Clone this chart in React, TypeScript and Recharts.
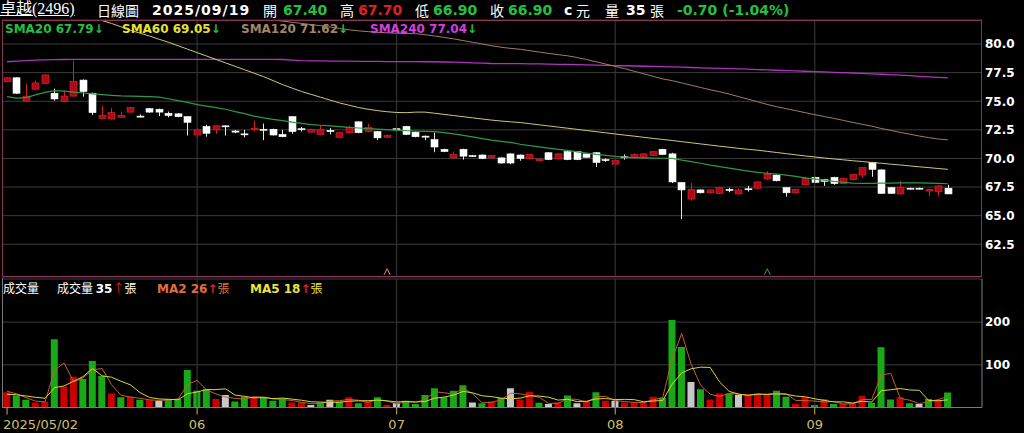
import React from "react";
import {
  ComposedChart,
  Bar,
  Line,
  XAxis,
  YAxis,
  CartesianGrid,
  ReferenceLine,
  ReferenceDot,
  Cell,
} from "recharts";

// 2025/05/02 .. 2025/09/19, one entry per trading day
const OPEN = [
  76.7, 77.05, 75.0, 76.05, 76.55, 75.7, 75.0, 75.45, 76.85, 75.7,
  73.5, 73.45, 73.6, 74.05, 73.7, 74.35, 74.3, 73.95, 73.9, 73.65,
  72.05, 72.8, 72.5, 72.85, 72.4, 72.15, 72.55, 72.55, 72.55, 72.1,
  73.65, 72.6, 72.3, 72.1, 72.45, 71.85, 72.25, 73.2, 72.35, 72.35,
  71.85, 72.6, 72.8, 72.3, 71.95, 71.65, 70.8, 70.05, 70.8, 70.25,
  70.3, 70.05, 70.05, 70.4, 70.3, 70.0, 69.8, 70.5, 69.95, 70.6,
  70.6, 70.4, 70.5, 69.9, 69.5, 70.15, 70.1, 70.1, 70.25, 70.8,
  70.4, 67.9, 66.45, 67.25, 67.0, 66.95, 67.3, 66.9, 67.35, 67.4,
  68.2, 68.55, 67.45, 67.0, 67.7, 68.35, 68.15, 68.35, 67.8, 68.15,
  68.55, 69.65, 69.0, 67.45, 66.9, 67.4, 67.4, 67.15, 67.1, 67.4,
];
const HIGH = [
  77.1, 77.1, 76.55, 76.8, 77.35, 76.1, 75.9, 78.55, 76.9, 75.75,
  74.6, 74.4, 74.1, 74.5, 73.85, 74.4, 74.35, 74.1, 73.95, 73.7,
  72.7, 72.95, 72.9, 72.9, 72.5, 72.5, 73.3, 73.05, 72.6, 72.5,
  73.7, 72.75, 72.6, 72.9, 72.65, 72.3, 72.85, 73.25, 73.05, 72.4,
  72.1, 72.65, 72.85, 72.35, 72.0, 72.25, 70.85, 70.6, 70.85, 70.3,
  70.35, 70.3, 70.1, 70.45, 70.35, 70.4, 70.0, 70.55, 70.45, 70.65,
  70.65, 70.45, 70.55, 70.0, 69.9, 70.35, 70.45, 70.45, 70.65, 70.85,
  70.5, 67.95, 67.85, 67.3, 67.3, 67.5, 67.45, 67.4, 67.6, 68.0,
  68.9, 68.6, 67.5, 67.35, 68.4, 68.4, 68.2, 68.4, 68.3, 68.65,
  69.25, 69.7, 69.05, 67.5, 68.05, 67.45, 67.45, 67.35, 67.65, 67.7,
];
const LOW = [
  76.65, 75.65, 74.95, 76.0, 76.5, 75.05, 74.95, 75.4, 75.4, 73.8,
  73.45, 73.4, 73.55, 74.0, 73.6, 74.0, 73.7, 73.6, 73.6, 72.0,
  71.8, 71.9, 72.15, 72.0, 72.2, 71.85, 72.35, 71.6, 72.0, 71.85,
  72.15, 72.35, 72.25, 72.05, 72.1, 71.8, 72.2, 72.2, 72.3, 71.6,
  71.8, 72.45, 72.05, 71.85, 71.6, 70.55, 70.55, 70.0, 69.9, 70.15,
  69.95, 70.0, 69.55, 69.5, 69.8, 69.9, 69.75, 69.85, 69.9, 69.85,
  69.85, 70.05, 69.25, 69.7, 69.45, 69.9, 70.05, 70.05, 70.2, 70.3,
  67.85, 64.7, 66.3, 66.95, 66.95, 66.9, 67.05, 66.85, 67.1, 67.35,
  68.15, 68.0, 66.65, 66.95, 67.65, 67.85, 67.6, 67.7, 67.75, 68.1,
  68.3, 68.4, 66.9, 66.9, 66.85, 67.3, 67.3, 66.7, 66.7, 66.9,
];
const CLOSE = [
  77.05, 75.7, 75.45, 76.6, 77.3, 75.2, 75.45, 76.75, 75.85, 74.0,
  73.75, 74.0, 73.75, 74.45, 73.65, 74.05, 74.05, 73.75, 73.65, 73.15,
  72.5, 72.2, 72.85, 72.8, 72.3, 72.1, 72.65, 72.5, 72.05, 71.9,
  72.35, 72.55, 72.55, 72.5, 72.35, 72.25, 72.7, 72.25, 72.7, 71.8,
  72.0, 72.5, 72.1, 71.9, 71.9, 71.0, 70.6, 70.35, 70.2, 70.2,
  70.0, 70.25, 69.6, 69.6, 70.0, 70.35, 69.95, 69.9, 70.4, 69.9,
  69.9, 70.1, 69.65, 69.85, 69.85, 70.1, 70.35, 70.4, 70.6, 70.35,
  67.95, 67.25, 67.3, 67.0, 67.25, 67.45, 67.2, 67.25, 67.3, 67.95,
  68.6, 68.05, 67.0, 67.3, 68.25, 67.9, 68.0, 67.8, 68.25, 68.6,
  69.2, 69.05, 66.95, 66.95, 67.45, 67.35, 67.35, 67.3, 67.6, 66.9,
];

const SMA20 = [
  75.4, 75.28, 75.32, 75.55, 75.78, 75.92, 75.88, 75.8, 75.72, 75.65,
  75.58, 75.52, 75.47, 75.45, 75.42, 75.4, 75.36, 75.22, 75.05, 74.9,
  74.7, 74.58, 74.45, 74.3, 74.1, 73.92, 73.7, 73.55, 73.42, 73.3,
  73.18, 73.06, 72.96, 72.9, 72.84, 72.78, 72.72, 72.66, 72.6, 72.56,
  72.52, 72.48, 72.43, 72.4, 72.37, 72.34, 72.26, 72.15, 72.02, 71.88,
  71.74, 71.6, 71.5, 71.4, 71.24, 71.12, 71.02, 70.9, 70.8, 70.7,
  70.58, 70.47, 70.36, 70.27, 70.18, 70.12, 70.08, 70.05, 70.03, 70.02,
  70.0, 69.85, 69.72, 69.58, 69.42, 69.28, 69.15, 69.02, 68.9, 68.78,
  68.7, 68.64, 68.55, 68.43, 68.3, 68.2, 68.1, 68.0, 67.92, 67.84,
  67.82, 67.83, 67.84, 67.85, 67.86, 67.87, 67.86, 67.84, 67.82, 67.79,
];
const SMA60 = [
  null, null, null, null, null, null, null, null, null, null,
  82.05, 81.8, 81.5, 81.2, 80.95, 80.7, 80.42, 80.15, 79.85, 79.55,
  79.25, 78.95, 78.65, 78.35, 78.05, 77.75, 77.45, 77.15, 76.8, 76.45,
  76.15, 75.85, 75.6, 75.35, 75.1, 74.85, 74.65, 74.45, 74.3, 74.18,
  74.08, 74.02, 74.0, 74.05, 74.05, 73.95, 73.85, 73.75, 73.65, 73.55,
  73.45, 73.35, 73.27, 73.2, 73.14, 73.04, 72.94, 72.84, 72.74, 72.64,
  72.54, 72.44, 72.34, 72.24, 72.14, 72.04, 71.95, 71.85, 71.75, 71.66,
  71.57, 71.47, 71.37, 71.27, 71.17, 71.07, 70.98, 70.88, 70.8, 70.72,
  70.62, 70.52, 70.42, 70.32, 70.22, 70.13, 70.04, 69.96, 69.88, 69.8,
  69.73, 69.65, 69.58, 69.5, 69.43, 69.35, 69.27, 69.2, 69.12, 69.05,
];
const SMA120 = [
  null, null, null, null, null, null, null, null, null, null,
  null, null, null, null, null, null, null, null, null, null,
  null, null, null, null, null, null, null, null, 82.1, 82.0,
  81.9, 81.8, 81.7, 81.6, 81.48, 81.36, 81.24, 81.15, 81.08, 81.02,
  80.98, 80.95, 80.92, 80.9, 80.82, 80.7, 80.58, 80.45, 80.3, 80.15,
  80.0, 79.85, 79.72, 79.62, 79.54, 79.42, 79.3, 79.18, 79.07, 78.97,
  78.82, 78.64, 78.45, 78.25, 78.05, 77.85, 77.62, 77.4, 77.17, 76.95,
  76.8, 76.6, 76.4, 76.2, 76.0, 75.83, 75.63, 75.4, 75.18, 74.95,
  74.72, 74.52, 74.35, 74.18, 74.0, 73.83, 73.66, 73.5, 73.33, 73.15,
  72.98, 72.82, 72.62, 72.45, 72.28, 72.12, 71.96, 71.82, 71.7, 71.62,
];
const SMA240 = [
  78.45, 78.5, 78.55, 78.6, 78.62, 78.64, 78.65, 78.66, 78.66, 78.66,
  78.66, 78.66, 78.66, 78.66, 78.66, 78.66, 78.66, 78.66, 78.66, 78.66,
  78.66, 78.66, 78.66, 78.66, 78.66, 78.66, 78.66, 78.66, 78.66, 78.65,
  78.6, 78.55, 78.53, 78.52, 78.51, 78.5, 78.5, 78.49, 78.48, 78.48,
  78.47, 78.47, 78.46, 78.46, 78.45, 78.45, 78.43, 78.41, 78.39, 78.36,
  78.33, 78.3, 78.29, 78.28, 78.28, 78.27, 78.26, 78.24, 78.23, 78.22,
  78.2, 78.18, 78.16, 78.14, 78.12, 78.1, 78.08, 78.06, 78.04, 78.02,
  78.0, 77.98, 77.95, 77.92, 77.9, 77.87, 77.85, 77.82, 77.8, 77.77,
  77.74, 77.71, 77.68, 77.65, 77.62, 77.59, 77.56, 77.53, 77.5, 77.47,
  77.43, 77.4, 77.36, 77.32, 77.28, 77.23, 77.18, 77.13, 77.08, 77.04,
];

// 張
const VOLUME = [
  36, 28, 18, 12, 14, 160, 49, 72, 67, 109,
  74, 33, 24, 25, 18, 18, 15, 20, 20, 88,
  39, 43, 20, 29, 14, 25, 25, 24, 16, 21,
  12, 12, 6, 12, 18, 14, 24, 10, 14, 24,
  6, 11, 16, 8, 29, 45, 24, 39, 52, 12,
  10, 14, 22, 45, 19, 37, 11, 8, 12, 28,
  10, 15, 36, 16, 16, 12, 12, 11, 25, 22,
  205, 142, 60, 43, 19, 33, 33, 29, 29, 33,
  29, 39, 25, 8, 24, 6, 20, 8, 8, 10,
  27, 11, 141, 19, 24, 10, 8, 20, 17, 35,
];
// u = up (red), d = down (green), f = flat (grey)
const VOL_DIR = [
  "udduuduudd",
  "dududufddd",
  "ddufdduddd",
  "uufdfdudud",
  "ufdddddddf",
  "dudfuudfud",
  "fudufuuuud",
  "ddfduudfuu",
  "udduududuu",
  "udddudfdud",
].join("");
const VMA2 = [
  38, 32, 23, 15, 13, 87, 104.5, 60.5, 69.5, 88,
  91.5, 53.5, 28.5, 24.5, 21.5, 18, 16.5, 17.5, 20, 54,
  63.5, 41, 31.5, 24.5, 21.5, 19.5, 25, 24.5, 20, 18.5,
  16.5, 12, 9, 9, 15, 16, 19, 17, 12, 19,
  15, 8.5, 13.5, 12, 18.5, 37, 34.5, 31.5, 45.5, 32,
  11, 12, 18, 33.5, 32, 28, 24, 9.5, 10, 20,
  19, 12.5, 25.5, 26, 16, 14, 12, 11.5, 18, 23.5,
  113.5, 173.5, 101, 51.5, 31, 26, 33, 31, 29, 31,
  31, 34, 32, 16.5, 16, 15, 13, 14, 8, 9,
  18.5, 19, 76, 80, 21.5, 17, 9, 14, 18.5, 26,
];
const VMA5 = [
  31, 30, 27, 24, 21.6, 46.4, 50.6, 61.4, 72.4, 91.4,
  74.2, 71, 61.4, 53, 34.8, 23.6, 20, 19.2, 18.2, 32.2,
  36.4, 42, 42, 43.8, 29, 26.2, 22.6, 23.4, 20.8, 22.2,
  19.6, 17, 13.4, 12.6, 12, 12.4, 14.8, 15.6, 16, 17.2,
  15.6, 13, 14.2, 13, 14, 21.8, 24.4, 29, 37.8, 34.4,
  27.4, 25.4, 22, 20.6, 22, 27.4, 26.8, 24, 17.4, 19.2,
  13.8, 14.6, 20.2, 21, 18.6, 19, 18.4, 13.4, 15.2, 16.4,
  55, 81, 90.8, 94.4, 93.8, 59.4, 37.6, 31.4, 28.6, 31.4,
  30.6, 31.8, 31, 26.8, 25, 20.4, 16.6, 13.2, 13.2, 10.4,
  14.6, 12.8, 39.4, 41.6, 44.4, 41, 40.4, 16.2, 15.8, 18,
];

const MONTH_IDX = [0, 20, 41, 64, 85];
const MONTH_LABELS = ["2025/05/02", "06", "07", "08", "09"];
const PRICE_TICKS = [62.5, 65, 67.5, 70, 72.5, 75, 77.5, 80];
const VOL_TICKS = [100, 200];
// day index of the small ^ markers above the price axis
const MARKS = [
  { i: 40, color: "#c8a060" },
  { i: 80, color: "#3a9a4a" },
];

const X_DOMAIN = [-0.53, 102.6];
const P_DOMAIN = [59.64, 82.1];
const V_DOMAIN = [0, 301];

const rows = OPEN.map((o, i) => ({
  i,
  open: o,
  high: HIGH[i],
  low: LOW[i],
  close: CLOSE[i],
  range: [LOW[i], HIGH[i]],
  sma20: SMA20[i],
  sma60: SMA60[i],
  sma120: SMA120[i],
  sma240: SMA240[i],
  vol: VOLUME[i],
  dir: VOL_DIR[i],
  vma2: VMA2[i],
  vma5: VMA5[i],
}));

const NUM_FONT = "'DejaVu Sans', Verdana, sans-serif";
const CJK_FONT = "'Noto Sans CJK TC', sans-serif";
const GRID = "#3c3c3c";
const UP = "#e02020";
const DOWN = "#22c040";

function Candle(props: any) {
  const { x, y, width, height, payload } = props;
  const top = Math.min(y, y + height);
  const h = Math.abs(height);
  const span = payload.high - payload.low;
  const k = span > 0 ? h / span : 0;
  const yo = top + (payload.high - payload.open) * k;
  const yc = top + (payload.high - payload.close) * k;
  const up = payload.close > payload.open;
  const cx = Math.round(x + width / 2) + 0.5;
  const bt = Math.min(yo, yc);
  const bh = Math.max(Math.abs(yc - yo), 1);
  return (
    <g>
      <line x1={cx} x2={cx} y1={top} y2={top + h} stroke={up ? "#d02020" : "#e8e8e8"} />
      <rect
        x={cx - 3.5}
        y={bt}
        width={7}
        height={bh}
        fill={up ? "#b00818" : "#ffffff"}
        stroke={up ? "#e02a2a" : "#ffffff"}
        strokeWidth={0.6}
      />
    </g>
  );
}

function Mark(props: any) {
  const { cx, cy, fill } = props;
  return (
    <path
      d={`M${cx - 3},${cy + 3} L${cx},${cy - 3} L${cx + 3},${cy + 3}`}
      stroke={fill}
      fill="none"
      strokeWidth={1}
    />
  );
}

function MonthTick(props: any) {
  const { x, y, payload, index } = props;
  const first = index === 0;
  return (
    <text
      x={first ? x - 4 : x}
      y={y}
      dy={12}
      textAnchor={first ? "start" : "middle"}
      fill="#d2bf6c"
      fontSize={13}
      fontFamily={NUM_FONT}
    >
      {MONTH_LABELS[MONTH_IDX.indexOf(payload.value)]}
    </text>
  );
}

const volColor = (d: string) => (d === "u" ? "#c80000" : d === "d" ? "#18a818" : "#c8c8c8");

function Span({ left, top, color = "#fff", size = 14, bold = false, font = NUM_FONT, children, style }: any) {
  return (
    <span
      style={{
        position: "absolute",
        left,
        top,
        color,
        fontSize: size,
        fontWeight: bold ? "bold" : "normal",
        fontFamily: font,
        whiteSpace: "nowrap",
        lineHeight: 1,
        ...style,
      }}
    >
      {children}
    </span>
  );
}

export default function App() {
  return (
    <div style={{ position: "relative", width: 1024, height: 433, background: "#000", overflow: "hidden" }}>
      <style>{`body{margin:0;background:#000}`}</style>

      {/* header */}
      <Span left={0} top={1} size={16} font={"'Liberation Serif', 'Noto Sans CJK TC', serif"} style={{ textDecoration: "underline" }}>
        卓越(2496)
      </Span>
      <Span left={97} top={3} size={14} font={CJK_FONT}>日線圖</Span>
      <Span left={152} top={3} bold style={{ letterSpacing: 1 }}>2025/09/19</Span>
      <Span left={263} top={3} size={14} font={CJK_FONT}>開</Span>
      <Span left={283} top={3} bold color={DOWN}>67.40</Span>
      <Span left={340} top={3} size={14} font={CJK_FONT}>高</Span>
      <Span left={358} top={3} bold color={UP}>67.70</Span>
      <Span left={415} top={3} size={14} font={CJK_FONT}>低</Span>
      <Span left={433} top={3} bold color={DOWN}>66.90</Span>
      <Span left={490} top={3} size={14} font={CJK_FONT}>收</Span>
      <Span left={508} top={3} bold color={DOWN}>66.90</Span>
      <Span left={564} top={3} bold>c</Span>
      <Span left={576} top={3} size={14} font={CJK_FONT}>元</Span>
      <Span left={605} top={3} size={14} font={CJK_FONT}>量</Span>
      <Span left={626} top={3} bold>35</Span>
      <Span left={650} top={3} size={14} font={CJK_FONT}>張</Span>
      <Span left={677} top={3} bold color={DOWN}>-0.70 (-1.04%)</Span>

      {/* price panel */}
      <div style={{ position: "absolute", left: 0, top: 0 }}>
        <ComposedChart width={1024} height={280} data={rows} margin={{ top: 20, right: 0, bottom: 3, left: 2 }}>
          <CartesianGrid stroke={GRID} vertical={false} />
          <XAxis dataKey="i" type="number" domain={X_DOMAIN} hide allowDataOverflow />
          <YAxis
            orientation="right"
            domain={P_DOMAIN}
            ticks={PRICE_TICKS}
            allowDataOverflow
            width={42}
            axisLine={false}
            tickLine={false}
            tickSize={0}
            tickMargin={3}
            tick={{ fill: "#fff", fontSize: 12, fontWeight: "bold", fontFamily: NUM_FONT }}
            tickFormatter={(v: number) => v.toFixed(1)}
          />
          {MONTH_IDX.slice(1).map((m) => (
            <ReferenceLine key={m} x={m} stroke={GRID} />
          ))}
          <Line dataKey="sma240" stroke="#b230c4" strokeWidth={1.3} dot={false} isAnimationActive={false} />
          <Line dataKey="sma120" stroke="#a27c62" strokeWidth={1} dot={false} isAnimationActive={false} />
          <Line dataKey="sma60" stroke="#cfc77a" strokeWidth={1} dot={false} isAnimationActive={false} />
          <Line dataKey="sma20" stroke="#2f9a45" strokeWidth={1.2} dot={false} isAnimationActive={false} />
          <Bar dataKey="range" shape={Candle} barSize={7} isAnimationActive={false} />
          {MARKS.map((m) => (
            <ReferenceDot key={m.i} x={m.i} y={60.1} r={3} fill={m.color} shape={Mark} />
          ))}
        </ComposedChart>
      </div>
      <div
        style={{
          position: "absolute",
          left: 2,
          top: 20,
          width: 980,
          height: 257,
          border: "1px solid #8a3458",
          boxSizing: "border-box",
          pointerEvents: "none",
        }}
      />

      {/* SMA legend */}
      <Span left={5} top={23} size={12} bold color="#22c040">SMA20 67.79<span style={{ color: DOWN }}>↓</span></Span>
      <Span left={122} top={23} size={12} bold color="#e6e22e">SMA60 69.05<span style={{ color: DOWN }}>↓</span></Span>
      <Span left={241} top={23} size={12} bold color="#a58466">SMA120 71.62<span style={{ color: DOWN }}>↓</span></Span>
      <Span left={370} top={23} size={12} bold color="#d23ee0">SMA240 77.04<span style={{ color: DOWN }}>↓</span></Span>

      {/* volume panel */}
      <div style={{ position: "absolute", left: 0, top: 277 }}>
        <ComposedChart width={1024} height={156} data={rows} margin={{ top: 2, right: 0, bottom: 0, left: 2 }}>
          <CartesianGrid stroke={GRID} vertical={false} />
          <XAxis
            dataKey="i"
            type="number"
            domain={X_DOMAIN}
            allowDataOverflow
            ticks={MONTH_IDX}
            interval={0}
            height={25.5}
            tickSize={7}
            tickMargin={2}
            tickLine={{ stroke: "#c8b45a" }}
            axisLine={{ stroke: "#7a7a7a" }}
            tick={<MonthTick />}
          />
          <YAxis
            orientation="right"
            domain={V_DOMAIN}
            ticks={VOL_TICKS}
            allowDataOverflow
            width={42}
            axisLine={{ stroke: "#7a7a7a" }}
            tickLine={false}
            tickSize={0}
            tickMargin={3}
            tick={{ fill: "#fff", fontSize: 12, fontWeight: "bold", fontFamily: NUM_FONT }}
          />
          {MONTH_IDX.slice(1).map((m) => (
            <ReferenceLine key={m} x={m} stroke={GRID} />
          ))}
          <Bar dataKey="vol" barSize={7} isAnimationActive={false}>
            {rows.map((r) => (
              <Cell key={r.i} fill={volColor(r.dir)} />
            ))}
          </Bar>
          <Line dataKey="vma2" stroke="#c0602c" strokeWidth={1} dot={false} isAnimationActive={false} />
          <Line dataKey="vma5" stroke="#d8d440" strokeWidth={1} dot={false} isAnimationActive={false} />
        </ComposedChart>
      </div>
      <div
        style={{
          position: "absolute",
          left: 2,
          top: 278,
          width: 1,
          height: 130,
          background: "#7a7a7a",
        }}
      />

      {/* volume legend */}
      <Span left={3} top={282} size={12} font={CJK_FONT}>成交量</Span>
      <Span left={57} top={282} size={12} font={CJK_FONT}>
        成交量 <b style={{ fontFamily: NUM_FONT }}>35</b>
        <span style={{ color: UP }}>↑</span>張
      </Span>
      <Span left={157} top={282} size={12} bold color="#e0703a">
        MA2 26<span style={{ color: UP }}>↑</span>
        <span style={{ fontFamily: CJK_FONT, fontWeight: "normal" }}>張</span>
      </Span>
      <Span left={250} top={282} size={12} bold color="#e8e43a">
        MA5 18<span style={{ color: UP }}>↑</span>
        <span style={{ fontFamily: CJK_FONT, fontWeight: "normal" }}>張</span>
      </Span>
    </div>
  );
}
